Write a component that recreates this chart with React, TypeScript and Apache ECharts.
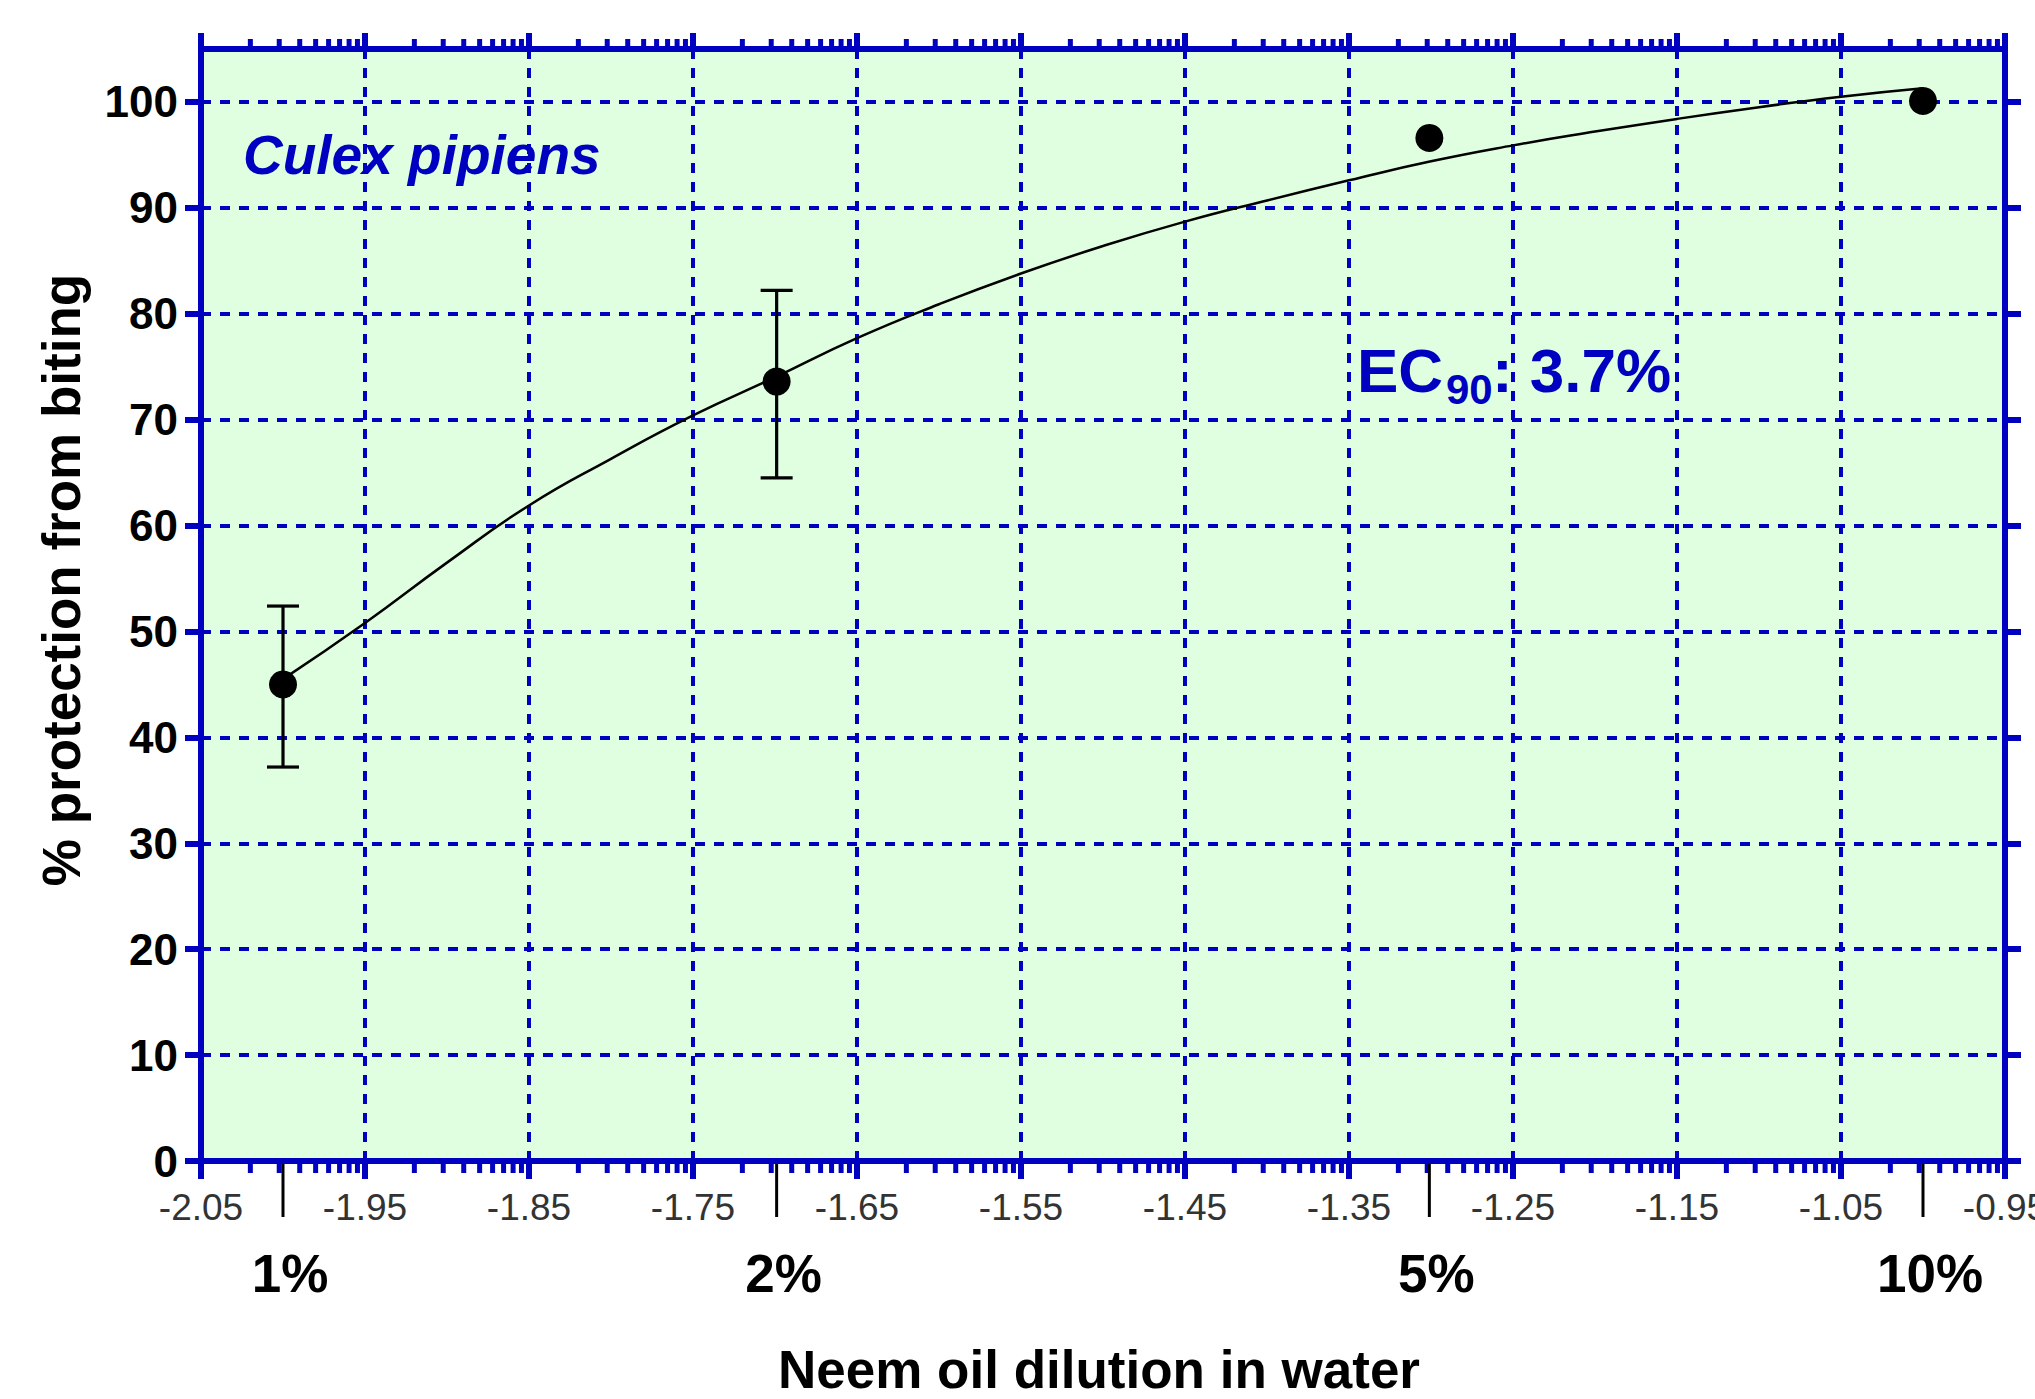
import React, { useEffect, useRef } from "react";
import * as echarts from "echarts";

// ---------- data ----------
const concLabels = ["1%", "2%", "5%", "10%"];
const logConc = [-2.0, -1.699, -1.301, -1.0];
const protection = [45.0, 73.6, 96.6, 100.1];
const errLow: (number | null)[] = [37.2, 64.5, null, null];
const errHigh: (number | null)[] = [52.4, 82.2, null, null];

// fitted curve
const fitX = [-2.0, -1.95, -1.9, -1.85, -1.8, -1.75, -1.7, -1.65, -1.6, -1.55, -1.5, -1.45, -1.4, -1.35, -1.3, -1.25, -1.2, -1.15, -1.1, -1.05, -1.0];
const fitY = [45.5, 50.8, 56.5, 61.9, 66.3, 70.4, 74.0, 77.7, 80.9, 83.8, 86.4, 88.7, 90.7, 92.6, 94.4, 95.9, 97.2, 98.4, 99.5, 100.5, 101.3];

// axis ticks
const xTicks = [-2.05, -1.95, -1.85, -1.75, -1.65, -1.55, -1.45, -1.35, -1.25, -1.15, -1.05, -0.95];
const yTicks = [0, 10, 20, 30, 40, 50, 60, 70, 80, 90, 100];
// minor tick pattern inside each 0.1 step (log10 of 2..9)
const minorTickFractions = [0.301, 0.477, 0.602, 0.699, 0.778, 0.845, 0.903, 0.954];

const X_MIN = -2.05;
const X_MAX = -0.95;
const X_STEP = 0.1;
const Y_MIN = 0;
const Y_MAX = 105;
const Y_STEP = 10;

const BLUE = "#0000C0";
const FONT = '"Liberation Sans", Arial, Helvetica, sans-serif';

function txtStyle(text: string, font: string, fill: string, align: string, vAlign: string) {
  return {
    text,
    font,
    fill,
    textFill: fill,
    align,
    verticalAlign: vAlign,
    textAlign: align,
    textVerticalAlign: vAlign,
  } as any;
}

export default function App() {
  const ref = useRef<HTMLDivElement>(null);

  useEffect(() => {
    const el = ref.current;
    if (!el) return;
    const chart = echarts.init(el, null, { renderer: "svg", width: 2035, height: 1399 });

    const minorTickXs: number[] = [];
    for (let i = 0; i < xTicks.length - 1; i++) {
      for (const f of minorTickFractions) minorTickXs.push(xTicks[i] + X_STEP * f);
    }

    const errorData = logConc
      .map((x, i) => [x, errLow[i], errHigh[i]])
      .filter((d) => d[1] != null && d[2] != null);

    const gridDash = { color: BLUE, width: 4, type: [10, 9] };

    const option: any = {
      animation: false,
      backgroundColor: "#ffffff",
      textStyle: { fontFamily: FONT },
      grid: {
        left: 201,
        top: 49,
        width: 1804,
        height: 1112,
        show: true,
        backgroundColor: "#E0FFE0",
        borderWidth: 0,
        containLabel: false,
        outerBoundsMode: "none",
      },
      xAxis: [
        {
          type: "value",
          position: "bottom",
          min: X_MIN,
          max: X_MAX,
          interval: X_STEP,
          axisLine: { show: true, onZero: false, lineStyle: { color: BLUE, width: 6 } },
          axisTick: { show: true, inside: false, length: 18, customValues: xTicks, lineStyle: { color: BLUE, width: 6 } },
          axisLabel: {
            show: true,
            customValues: xTicks,
            interval: 0,
            margin: 28,
            showMinLabel: true,
            showMaxLabel: true,
            hideOverlap: false,
            formatter: (v: number) => v.toFixed(2),
            color: "#333333",
            fontSize: 37,
            fontFamily: FONT,
          },
          splitLine: { show: true, lineStyle: gridDash },
          minorTick: { show: false },
          minorSplitLine: { show: false },
        },
        {
          type: "value",
          position: "top",
          min: X_MIN,
          max: X_MAX,
          interval: X_STEP,
          axisLine: { show: true, onZero: false, lineStyle: { color: BLUE, width: 6 } },
          axisTick: { show: true, inside: false, length: 16, customValues: xTicks, lineStyle: { color: BLUE, width: 6 } },
          axisLabel: { show: false },
          splitLine: { show: false },
        },
      ],
      yAxis: [
        {
          type: "value",
          position: "left",
          min: Y_MIN,
          max: Y_MAX,
          interval: Y_STEP,
          axisLine: { show: true, onZero: false, lineStyle: { color: BLUE, width: 6 } },
          axisTick: { show: true, inside: false, length: 16, customValues: yTicks, lineStyle: { color: BLUE, width: 6 } },
          axisLabel: {
            show: true,
            customValues: yTicks,
            margin: 23,
            formatter: (v: number) => (yTicks.indexOf(v) >= 0 ? String(v) : ""),
            color: "#000000",
            fontSize: 44,
            fontWeight: "bold",
            fontFamily: FONT,
          },
          splitLine: { show: true, lineStyle: gridDash },
        },
        {
          type: "value",
          position: "right",
          min: Y_MIN,
          max: Y_MAX,
          interval: Y_STEP,
          axisLine: { show: true, onZero: false, lineStyle: { color: BLUE, width: 6 } },
          axisTick: { show: true, inside: false, length: 16, customValues: yTicks, lineStyle: { color: BLUE, width: 6 } },
          axisLabel: { show: false },
          splitLine: { show: false },
        },
      ],
      graphic: [
        {
          type: "text",
          x: 243,
          y: 155,
          z: 100,
          style: txtStyle("Culex pipiens", `italic bold 55px ${FONT}`, BLUE, "left", "middle"),
        },
        {
          type: "text",
          x: 1357,
          y: 370,
          z: 100,
          style: txtStyle("EC", `bold 62px ${FONT}`, BLUE, "left", "middle"),
        },
        {
          type: "text",
          x: 1446,
          y: 389,
          z: 100,
          style: txtStyle("90", `bold 42px ${FONT}`, BLUE, "left", "middle"),
        },
        {
          type: "text",
          x: 1492,
          y: 370,
          z: 100,
          style: txtStyle(": 3.7%", `bold 62px ${FONT}`, BLUE, "left", "middle"),
        },
        {
          type: "text",
          x: 61,
          y: 580,
          rotation: Math.PI / 2,
          z: 100,
          style: txtStyle("% protection from biting", `bold 53px ${FONT}`, "#000000", "center", "middle"),
        },
        {
          type: "text",
          x: 1099,
          y: 1369,
          z: 100,
          style: txtStyle("Neem oil dilution in water", `bold 53px ${FONT}`, "#000000", "center", "middle"),
        },
      ],
      series: [
        {
          type: "custom",
          name: "minorTicks",
          xAxisIndex: 0,
          yAxisIndex: 0,
          clip: false,
          silent: true,
          z: 1,
          data: minorTickXs.map((x) => [x, Y_MIN]),
          encode: { x: 0, y: 1 },
          renderItem: (params: any, api: any) => {
            const x = api.value(0);
            const pb = api.coord([x, Y_MIN]);
            const pt = api.coord([x, Y_MAX]);
            return {
              type: "group",
              children: [
                { type: "line", shape: { x1: pb[0], y1: pb[1], x2: pb[0], y2: pb[1] + 12 }, style: { stroke: BLUE, lineWidth: 5 } },
                { type: "line", shape: { x1: pt[0], y1: pt[1], x2: pt[0], y2: pt[1] - 10 }, style: { stroke: BLUE, lineWidth: 5 } },
              ],
            };
          },
        },
        {
          type: "custom",
          name: "concentrations",
          xAxisIndex: 0,
          yAxisIndex: 0,
          clip: false,
          silent: true,
          z: 1,
          data: logConc.map((x) => [x, Y_MIN]),
          encode: { x: 0, y: 1 },
          renderItem: (params: any, api: any) => {
            const x = api.value(0);
            const p = api.coord([x, Y_MIN]);
            return {
              type: "group",
              children: [
                { type: "line", shape: { x1: p[0], y1: p[1] + 3, x2: p[0], y2: p[1] + 56 }, style: { stroke: "#000000", lineWidth: 3 } },
                {
                  type: "text",
                  x: p[0] + 7,
                  y: p[1] + 112,
                  style: txtStyle(concLabels[params.dataIndex], `bold 53px ${FONT}`, "#000000", "center", "middle"),
                },
              ],
            };
          },
        },
        {
          type: "line",
          name: "fit",
          xAxisIndex: 0,
          yAxisIndex: 0,
          data: fitX.map((x, i) => [x, fitY[i]]),
          smooth: true,
          symbol: "none",
          showSymbol: false,
          silent: true,
          lineStyle: { color: "#000000", width: 2.5, opacity: 1 },
          z: 3,
        },
        {
          type: "custom",
          name: "errorBars",
          xAxisIndex: 0,
          yAxisIndex: 0,
          clip: false,
          silent: true,
          z: 4,
          data: errorData,
          encode: { x: 0, y: [1, 2] },
          renderItem: (params: any, api: any) => {
            const x = api.value(0);
            const lo = api.coord([x, api.value(1)]);
            const hi = api.coord([x, api.value(2)]);
            const cap = 16;
            const st = { stroke: "#000000", lineWidth: 3.2 };
            return {
              type: "group",
              children: [
                { type: "line", shape: { x1: lo[0], y1: lo[1], x2: hi[0], y2: hi[1] }, style: st },
                { type: "line", shape: { x1: lo[0] - cap, y1: lo[1], x2: lo[0] + cap, y2: lo[1] }, style: st },
                { type: "line", shape: { x1: hi[0] - cap, y1: hi[1], x2: hi[0] + cap, y2: hi[1] }, style: st },
              ],
            };
          },
        },
        {
          type: "scatter",
          name: "mean",
          xAxisIndex: 0,
          yAxisIndex: 0,
          data: logConc.map((x, i) => [x, protection[i]]),
          symbol: "circle",
          symbolSize: 28,
          silent: true,
          itemStyle: { color: "#000000", opacity: 1 },
          z: 5,
        },
      ],
    };

    chart.setOption(option);
    return () => {
      chart.dispose();
    };
  }, []);

  return (
    <div
      ref={ref}
      style={{ position: "fixed", left: 0, top: 0, width: 2035, height: 1399, background: "#ffffff" }}
    />
  );
}
